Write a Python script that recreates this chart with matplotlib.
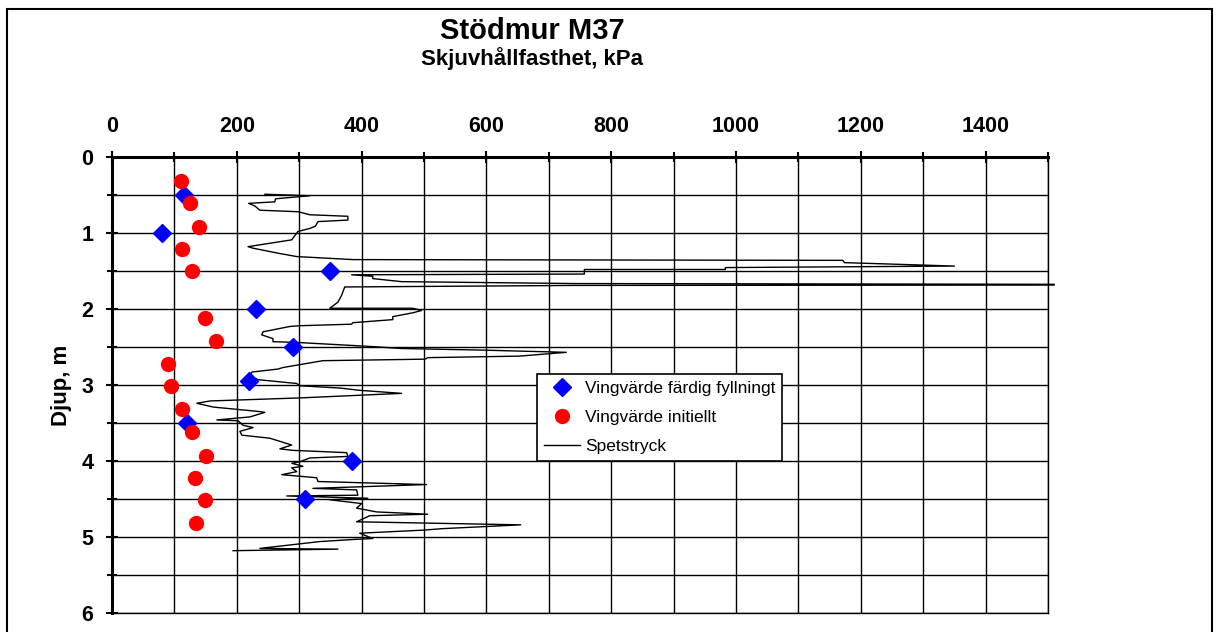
import matplotlib.pyplot as plt
from matplotlib.ticker import MultipleLocator
from matplotlib.patches import Rectangle

plt.rcParams["font.family"] = ["Liberation Sans", "DejaVu Sans"]

# ---- Data ----
# Spetstryck trace: kPa vs depth (m)
spets_kpa = [245, 317, 262, 261, 219, 229, 237, 298, 317, 378, 378, 330, 326, 317,
             298, 288, 218, 226, 269, 296, 386, 1171, 1174, 1350, 983, 983, 757, 757,
             384, 418, 418, 464, 740, 1510, 1510, 740, 373, 368, 362, 349, 482, 496,
             482, 450, 450, 386, 384, 301, 285, 242, 240, 258, 258, 296, 408, 464,
             589, 728, 653, 506, 502, 338, 274, 266, 224, 221, 234, 296, 301, 365,
             397, 464, 301, 157, 136, 162, 237, 245, 221, 168, 202, 210, 226, 205,
             208, 253, 288, 269, 290, 376, 378, 317, 301, 288, 306, 288, 296, 272,
             328, 330, 504, 322, 392, 394, 280, 410, 349, 400, 392, 424, 506, 413,
             392, 655, 530, 498, 397, 418, 392, 333, 237, 362, 194]
spets_djup = [0.49, 0.51, 0.55, 0.59, 0.61, 0.645, 0.70, 0.72, 0.76, 0.78, 0.83, 0.85,
              0.91, 0.94, 0.98, 1.09, 1.18, 1.20, 1.27, 1.31, 1.35, 1.36, 1.39, 1.435,
              1.455, 1.48, 1.48, 1.54, 1.55, 1.57, 1.60, 1.64, 1.665, 1.675, 1.685,
              1.69, 1.71, 1.82, 1.91, 1.99, 1.99, 2.02, 2.05, 2.10, 2.14, 2.18, 2.20,
              2.22, 2.23, 2.30, 2.34, 2.39, 2.43, 2.44, 2.49, 2.52, 2.54, 2.57, 2.62,
              2.64, 2.66, 2.68, 2.77, 2.79, 2.83, 2.88, 2.93, 2.98, 3.01, 3.04, 3.07,
              3.11, 3.17, 3.21, 3.24, 3.29, 3.35, 3.36, 3.42, 3.46, 3.47, 3.53, 3.56,
              3.61, 3.66, 3.70, 3.79, 3.84, 3.86, 3.89, 3.94, 3.96, 4.01, 4.03, 4.07,
              4.09, 4.14, 4.18, 4.22, 4.27, 4.31, 4.36, 4.38, 4.45, 4.46, 4.49, 4.51,
              4.56, 4.62, 4.67, 4.70, 4.72, 4.80, 4.84, 4.89, 4.91, 4.95, 5.02, 5.03,
              5.06, 5.15, 5.16, 5.18]

# Vingvärde färdig fyllningt (blue diamonds)
fyll_kpa = [115, 80, 350, 230, 290, 220, 120, 384, 310]
fyll_djup = [0.50, 1.00, 1.50, 2.00, 2.50, 2.95, 3.50, 4.00, 4.50]

# Vingvärde initiellt (red circles)
init_kpa = [110, 125, 139, 112, 128, 149, 166, 90, 94, 112, 128, 150, 133, 149, 134]
init_djup = [0.32, 0.61, 0.92, 1.21, 1.50, 2.12, 2.42, 2.72, 3.01, 3.32, 3.62, 3.93,
             4.22, 4.51, 4.82]

# -----------------------------
# Figure
# -----------------------------
W, H = 1220, 632
fig = plt.figure(figsize=(W / 100, H / 100), dpi=100)
ax = fig.add_axes([112 / W, 19 / H, 936 / W, 456 / H])

ax.plot(fyll_kpa, fyll_djup, linestyle="none", marker="D", markersize=9,
        color="#0000ff", label="Vingvärde färdig fyllningt", zorder=4)
ax.plot(init_kpa, init_djup, linestyle="none", marker="o", markersize=10,
        color="#ff0000", label="Vingvärde initiellt", zorder=4)
ax.plot(spets_kpa, spets_djup, color="black", lw=1.0, label="Spetstryck",
        clip_on=False, zorder=3)

ax.set_xlim(0, 1500)
ax.set_ylim(6, 0)

ax.xaxis.tick_top()
ax.xaxis.set_minor_locator(MultipleLocator(100))
ax.yaxis.set_major_locator(MultipleLocator(1))
ax.yaxis.set_minor_locator(MultipleLocator(0.5))
ax.set_xticks([0, 200, 400, 600, 800, 1000, 1200, 1400])

ax.tick_params(axis="x", which="major", direction="inout", length=9, width=1.5,
               pad=10, labelsize=15.5)
ax.tick_params(axis="x", which="minor", direction="inout", length=7, width=1.5)
ax.tick_params(axis="y", which="major", direction="inout", length=9, width=1.5,
               pad=9, labelsize=15.5)
ax.tick_params(axis="y", which="minor", direction="inout", length=7, width=1.5)
for lab in ax.get_xticklabels() + ax.get_yticklabels():
    lab.set_fontweight("bold")

ax.grid(True, which="both", color="black", lw=1.0)
ax.set_axisbelow(True)

ax.spines["top"].set_linewidth(2.2)
ax.spines["left"].set_linewidth(2.2)
ax.spines["right"].set_linewidth(1.0)
ax.spines["bottom"].set_linewidth(1.0)

# ---- Titles / labels ----
fig.text(532 / W, 1 - 31 / H, "Stödmur M37", ha="center", va="center",
         fontsize=21, fontweight="bold")
fig.text(532 / W, 1 - 59 / H, "Skjuvhållfasthet, kPa", ha="center", va="center",
         fontsize=16, fontweight="bold")
fig.text(62 / W, 1 - 385 / H, "Djup, m", ha="center", va="center",
         rotation=90, fontsize=16, fontweight="bold")

# ---- Legend ----
leg = ax.legend(loc="upper left", bbox_to_anchor=(537 / W, 1 - 374 / H),
                bbox_transform=fig.transFigure, borderaxespad=0,
                fontsize=12.5, handlelength=2.1, handletextpad=0.25,
                labelspacing=0.8, borderpad=0.4, fancybox=False,
                framealpha=1, edgecolor="black")
leg.get_frame().set_linewidth(1.2)

# ---- Outer frame ----
fig.patches.append(Rectangle((7 / W, -0.1), (1212 - 7) / W, 1.1 - 9 / H,
                             transform=fig.transFigure, fill=False,
                             edgecolor="black", lw=1.5))

fig.savefig("out.png", dpi=100)
